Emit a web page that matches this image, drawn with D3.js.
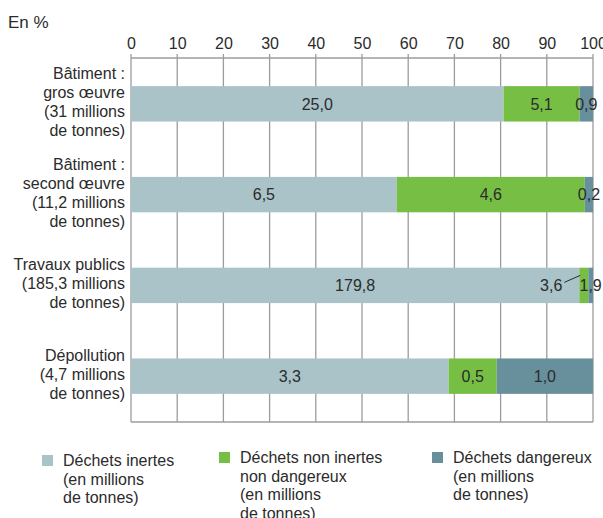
<!DOCTYPE html>
<meta charset="utf-8">
<title>Déchets du BTP</title>
<style>
    body { margin: 0; background: #fff; }
    svg text { font-family: "Liberation Sans", Arial, sans-serif; fill: #2b2b2b; }
    .grid line { stroke: #9c9c9c; stroke-width: 1.3px; }
</style>
<body>
<div id="chart"></div>
<script src="https://d3js.org/d3.v7.min.js"></script>
<script>
    // data (millions de tonnes)
    var categories = [
        ["Bâtiment :", "gros œuvre", "(31 millions", "de tonnes)"],
        ["Bâtiment :", "second œuvre", "(11,2 millions", "de tonnes)"],
        ["Travaux publics", "(185,3 millions", "de tonnes)"],
        ["Dépollution", "(4,7 millions", "de tonnes)"]
    ];
    var inertes = [25.0, 6.5, 179.8, 3.3];
    var nonInertes = [5.1, 4.6, 3.6, 0.5];
    var dangereux = [0.9, 0.2, 1.9, 1.0];
    var xTicks = [0, 10, 20, 30, 40, 50, 60, 70, 80, 90, 100];
    var legendLabels = [
        ["Déchets inertes", "(en millions", "de tonnes)"],
        ["Déchets non inertes", "non dangereux", "(en millions", "de tonnes)"],
        ["Déchets dangereux", "(en millions", "de tonnes)"]
    ];
    var colors = ["#a9c3c9", "#76bf44", "#67909c"];

    var width = 603, height = 518;
    var plotTop = 58, plotBottom = 422;

    var svg = d3.select("#chart").append("svg")
        .attr("width", width)
        .attr("height", height);

    var fr = d3.formatLocale({ decimal: ",", thousands: " ", grouping: [3], currency: ["", " €"] });
    var fmt = fr.format(".1f");

    var x = d3.scaleLinear().domain([0, 100]).range([131, 593]);
    var y = d3.scaleBand().domain(d3.range(categories.length))
        .range([plotTop, plotBottom]).paddingInner(0.61).paddingOuter(0.31);

    // build stacked table in percent
    var series = [inertes, nonInertes, dangereux];
    var rows = categories.map(function (c, i) {
        var total = d3.sum(series, function (s) { return s[i]; });
        var acc = 0;
        return series.map(function (s, k) {
            var p = s[i] / total * 100;
            var seg = { row: i, k: k, value: s[i], x0: acc, x1: acc + p };
            acc += p;
            return seg;
        });
    });

    // title
    svg.append("text")
        .attr("x", 8).attr("y", 28)
        .style("font-size", "17px")
        .text("En %");

    // grid
    var grid = svg.append("g").attr("class", "grid");
    grid.selectAll("line.v").data(xTicks).enter().append("line")
        .attr("class", "v")
        .attr("x1", function (d) { return x(d); })
        .attr("x2", function (d) { return x(d); })
        .attr("y1", plotTop - 4)
        .attr("y2", plotBottom);
    grid.append("line").attr("x1", x(0)).attr("x2", x(100)).attr("y1", plotTop).attr("y2", plotTop);
    grid.append("line").attr("x1", x(0)).attr("x2", x(100)).attr("y1", plotBottom).attr("y2", plotBottom);

    // top axis labels
    var axis = svg.append("g")
        .attr("transform", "translate(0," + (plotTop - 4) + ")")
        .call(d3.axisTop(x).tickValues(xTicks).tickSize(0).tickPadding(5));
    axis.select(".domain").remove();
    axis.selectAll("text").style("font-size", "16px").attr("fill", "#2b2b2b");

    // bars
    var g = svg.append("g");
    rows.forEach(function (segs) {
        g.selectAll(null).data(segs).enter().append("rect")
            .attr("x", function (d) { return x(d.x0); })
            .attr("width", function (d) { return x(d.x1) - x(d.x0); })
            .attr("y", function (d) { return y(d.row); })
            .attr("height", y.bandwidth())
            .attr("fill", function (d) { return colors[d.k]; });
    });

    // value labels
    rows.forEach(function (segs) {
        segs.forEach(function (d) {
            var cy = y(d.row) + y.bandwidth() / 2;
            var w = x(d.x1) - x(d.x0);
            var cx = (x(d.x0) + x(d.x1)) / 2;
            if (d.k === 1 && w < 15) {
                // small segment: label outside with a leader line
                var sx = x(d.x0);
                g.append("text")
                    .attr("x", sx - 17).attr("y", cy)
                    .attr("dy", "0.36em")
                    .attr("text-anchor", "end")
                    .style("font-size", "16px")
                    .text(fmt(d.value));
                g.append("line")
                    .attr("x1", sx - 15).attr("y1", cy - 3)
                    .attr("x2", sx + 1).attr("y2", cy - 10)
                    .attr("stroke", "#2b2b2b").attr("stroke-width", 1);
            } else {
                g.append("text")
                    .attr("x", cx).attr("y", cy)
                    .attr("dy", "0.36em")
                    .attr("text-anchor", "middle")
                    .style("font-size", "16px")
                    .text(fmt(d.value));
            }
        });
    });

    // category labels
    var lineH = 19;
    categories.forEach(function (lines, i) {
        var cy = y(i) + y.bandwidth() / 2 - 2;
        var t = svg.append("text")
            .attr("text-anchor", "end")
            .style("font-size", "16px");
        lines.forEach(function (l, j) {
            t.append("tspan")
                .attr("x", 125)
                .attr("y", cy + (j - (lines.length - 1) / 2) * lineH)
                .attr("dy", "0.36em")
                .text(l);
        });
    });

    // legend
    var legendX = [42, 219, 432];
    var legendY = [455, 452, 452];
    legendLabels.forEach(function (lines, k) {
        var lg = svg.append("g").attr("transform", "translate(" + legendX[k] + "," + legendY[k] + ")");
        lg.append("rect").attr("width", 11).attr("height", 11).attr("fill", colors[k]);
        var t = lg.append("text").style("font-size", "16px");
        lines.forEach(function (l, j) {
            t.append("tspan")
                .attr("x", 21)
                .attr("y", 5.5 + j * 18.5)
                .attr("dy", "0.36em")
                .text(l);
        });
    });
</script>
</body>
